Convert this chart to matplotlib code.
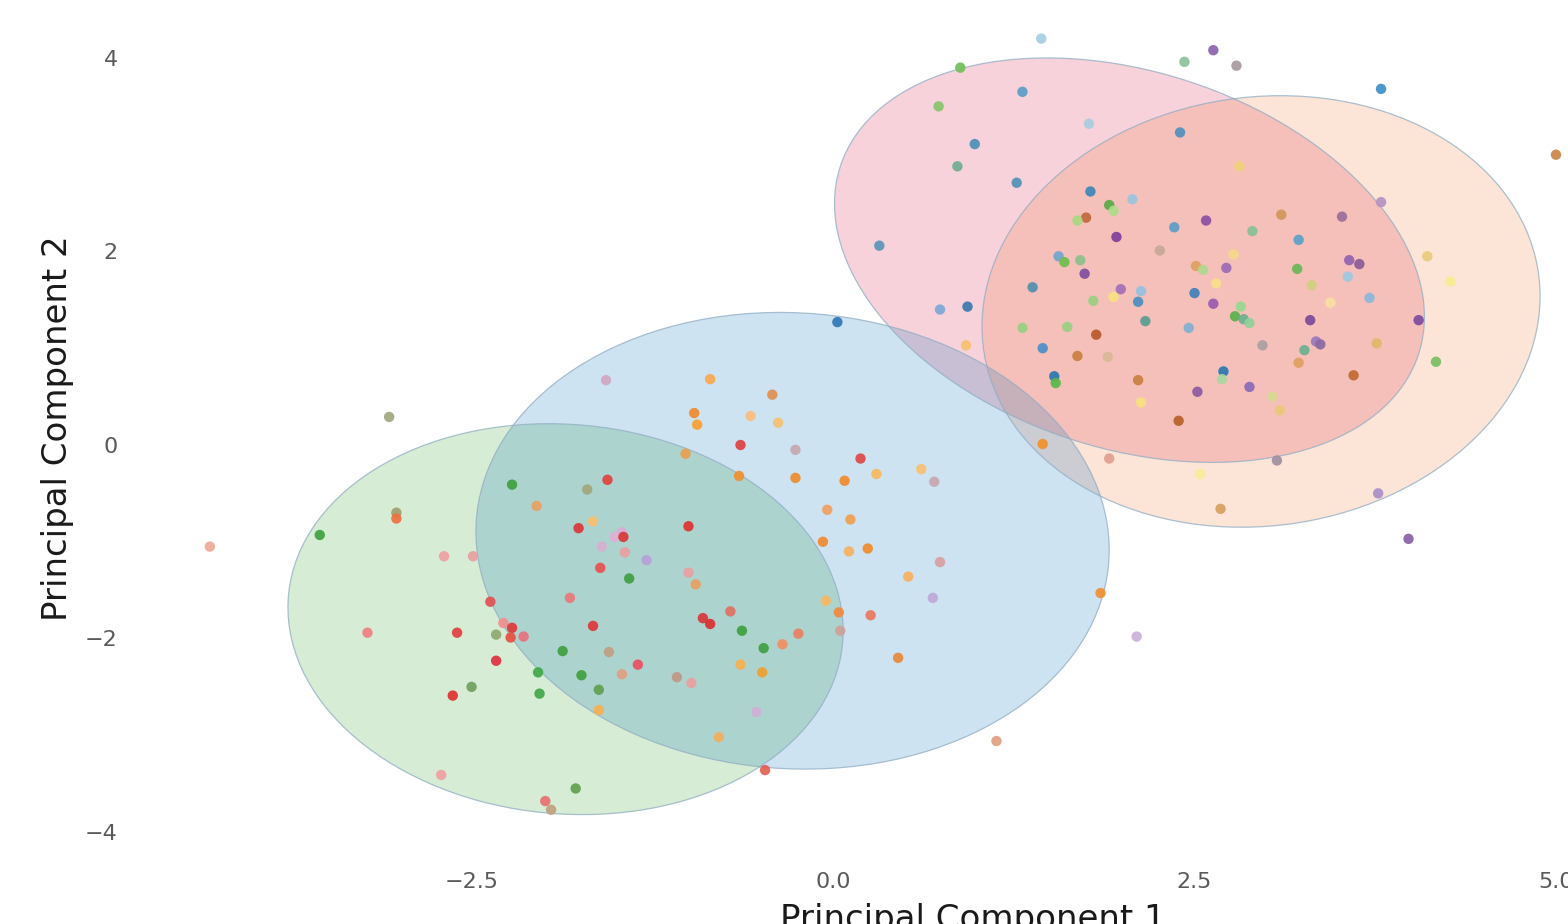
import numpy as np
import matplotlib
matplotlib.use('Agg')
import matplotlib.pyplot as plt
from matplotlib.patches import Ellipse

plt.rcParams['font.family'] = ['DejaVu Sans']

# PCA scores (PC1, PC2) and point colours
pc1 = [1.44, 2.63, 2.43, 2.79, 0.88, 0.73, 1.31, 1.77, 0.98, 0.86,
       1.27, 0.32, 3.79, 5.00, 2.40, 2.81, 1.78, 1.91, 1.75, 1.69,
       1.56, 1.60, 1.71, 1.74, 1.38, 3.79, 3.10, 3.52, 2.58, 2.07,
       1.94, 2.36, 2.90, 1.96, 3.22, 2.26, 4.11, 2.77, 3.57, 3.64,
       2.51, 2.56, 2.72, 3.21, 3.56, 4.27, 2.65, 3.31, 1.99, 2.13,
       2.50, 3.71, 1.94, 2.11, 2.63, 2.82, 2.78, 2.84, 2.88, 3.44,
       2.16, 2.46, 3.30, 4.05, 2.97, 3.34, 3.37, 3.26, 3.76, 4.17,
       3.22, 2.70, 2.69, 2.11, 2.52, 2.88, 3.04, 2.13, 3.09, 3.60,
       2.39, 1.91, 3.07, 2.54, 3.77, 2.68, 3.98, 1.80, 1.31, 1.62,
       1.82, 1.45, 1.69, 1.90, 1.53, 1.54, 0.03, 0.74, 0.93, 0.92,
       1.45, 2.10,
       -0.85, -0.42, -0.96, -0.94, -0.57, -0.38, -0.64, -0.26, -1.02, 0.19,
       0.30, 0.61, 0.70, -0.65, -0.26, 0.08, -1.00, -0.04, 0.12, -0.07,
       0.11, 0.24, 0.74, 0.52, 0.69, 1.85, -1.00, -0.95, -0.05, 0.04,
       0.26, -0.71, -0.90, -0.85, 0.05, -0.63, -0.24, -0.35, -0.48, -0.64,
       -0.49, 0.45, -1.08, -0.98, -0.53, -0.79, -0.47, 1.13,
       -1.57, -3.07, -2.22, -1.56, -1.70, -2.05, -1.66, -1.76, -1.46, -1.51,
       -1.45, -1.60, -1.44, -3.02, -3.02, -3.55, -4.31, -2.69, -2.49, -1.29,
       -1.61, -1.41, -1.82, -2.37, -2.28, -2.22, -2.14, -2.23, -2.33, -1.66,
       -3.22, -2.60, -1.87, -1.55, -1.35, -1.46, -2.04, -1.74, -2.33, -1.62,
       -2.50, -2.63, -2.03, -1.62, -2.71, -1.78, -1.99, -1.95]

pc2 = [4.20, 4.08, 3.96, 3.92, 3.90, 3.50, 3.65, 3.32, 3.11, 2.88,
       2.71, 2.06, 3.68, 3.00, 3.23, 2.88, 2.62, 2.48, 2.35, 2.32,
       1.95, 1.89, 1.91, 1.77, 1.63, 2.51, 2.38, 2.36, 2.32, 2.54,
       2.42, 2.25, 2.21, 2.15, 2.12, 2.01, 1.95, 1.97, 1.91, 1.87,
       1.85, 1.81, 1.83, 1.82, 1.74, 1.69, 1.67, 1.65, 1.61, 1.59,
       1.57, 1.52, 1.53, 1.48, 1.46, 1.43, 1.33, 1.30, 1.26, 1.47,
       1.28, 1.21, 1.29, 1.29, 1.03, 1.07, 1.04, 0.98, 1.05, 0.86,
       0.85, 0.76, 0.68, 0.67, 0.55, 0.60, 0.50, 0.44, 0.36, 0.72,
       0.25, -0.14, -0.16, -0.30, -0.50, -0.66, -0.97, 1.49, 1.21, 1.22,
       1.14, 1.00, 0.92, 0.91, 0.71, 0.64, 1.27, 1.40, 1.43, 1.03,
       0.01, -1.98,
       0.68, 0.52, 0.33, 0.21, 0.30, 0.23, 0.00, -0.05, -0.09, -0.14,
       -0.30, -0.25, -0.38, -0.32, -0.34, -0.37, -0.84, -0.67, -0.77, -1.00,
       -1.10, -1.07, -1.21, -1.36, -1.58, -1.53, -1.32, -1.44, -1.61, -1.73,
       -1.76, -1.72, -1.79, -1.85, -1.92, -1.92, -1.95, -2.06, -2.10, -2.27,
       -2.35, -2.20, -2.40, -2.46, -2.76, -3.02, -3.36, -3.06,
       0.67, 0.29, -0.41, -0.36, -0.46, -0.63, -0.79, -0.86, -0.90, -0.95,
       -0.95, -1.05, -1.11, -0.70, -0.76, -0.93, -1.05, -1.15, -1.15, -1.19,
       -1.27, -1.38, -1.58, -1.62, -1.84, -1.89, -1.98, -1.99, -1.96, -1.87,
       -1.94, -1.94, -2.13, -2.14, -2.27, -2.37, -2.35, -2.38, -2.23, -2.53,
       -2.50, -2.59, -2.57, -2.74, -3.41, -3.55, -3.68, -3.77]

point_colors = [
    '#a6cee3', '#8a64ad', '#8cc49a', '#a89aa0', '#6fbf5a', '#86c46a', '#5a9ec6', '#a8cde0', '#4d8fb5', '#6fae8e',
    '#4f92b8', '#5b95b8', '#3d8ec8', '#c98548', '#4f90c0', '#f0d27a', '#3f86b8', '#5aaa48', '#c0683a', '#a8d880',
    '#6ea5cf', '#6cbf4a', '#8cc08a', '#7f4f9f', '#5090b0', '#b592c0', '#d2965a', '#9a6e9c', '#8a4fa3', '#9cc4df',
    '#b0dc88', '#5d9cc8', '#88c092', '#7e3f9a', '#5aa1c6', '#c4a898', '#e8cc7a', '#f5d88a', '#9263b0', '#8a5a9a',
    '#e0a060', '#b0d890', '#9a6ab5', '#6ab85a', '#9cc8e0', '#f8ec90', '#f8e08a', '#d0d080', '#a070b8', '#98c0e0',
    '#3f7fba', '#8ab8d8', '#f8e080', '#4a8fc0', '#9a5ab0', '#98d890', '#5ab04a', '#6ab090', '#90d098', '#f8e0a0',
    '#5a9e90', '#80b0d0', '#7a4a9a', '#7a4aa0', '#a8a0a0', '#9a7ac0', '#8a6aa0', '#6ab090', '#e0b868', '#7ac060',
    '#e0a060', '#2a78b0', '#a8d8a0', '#c88040', '#8a5aa0', '#8a6ab8', '#d8d890', '#f8e080', '#e8c878', '#c06a30',
    '#b8602a', '#e0a090', '#a090a0', '#f8ec98', '#a890c8', '#d8a060', '#8a60a8', '#98d080', '#98d080', '#98d080',
    '#b8582a', '#4a8ec8', '#c88040', '#d8b898', '#2a78b0', '#5ab848', '#2e78b8', '#7ca8d8', '#3a78b0', '#f8c070',
    '#f0922a', '#c8b0d8',
    '#f8a850', '#e09050', '#f08a30', '#f8a030', '#f8c080', '#f8c070', '#e04040', '#c8a8b0', '#e8a050', '#e04848',
    '#f8b860', '#f8c070', '#c8a8b0', '#f09030', '#f08a2a', '#f08a2a', '#e03030', '#f0a060', '#f0a050', '#f08a30',
    '#f8b060', '#f08a2a', '#d8a0a0', '#f8b060', '#c0a8d8', '#f09030', '#e8a0a0', '#e8a060', '#f8b860', '#f08a40',
    '#e87860', '#e07060', '#d83838', '#d83030', '#d0a098', '#40a040', '#e88060', '#f09060', '#40a040', '#f8b050',
    '#f0a030', '#e8883a', '#c09888', '#e8a0a0', '#d0b0d8', '#f0b060', '#e06050', '#e0a080',
    '#d0a8c0', '#a0a880', '#40a040', '#e04040', '#a0a878', '#e8a060', '#f8c070', '#d83838', '#d8b0d8', '#e0b0d0',
    '#d83838', '#d8b0d0', '#e8a0a0', '#a0a070', '#f07040', '#40a040', '#f0a898', '#f0a0a0', '#e8a0a0', '#b8a0d8',
    '#e85050', '#40a040', '#e87878', '#e05050', '#f09090', '#e03838', '#e87080', '#e85040', '#90a870', '#e03838',
    '#f08080', '#e04040', '#40a040', '#c0a080', '#e85060', '#e0a080', '#40a848', '#40a040', '#e03040', '#60a050',
    '#70a060', '#e03030', '#40a848', '#f8b050', '#f0a0a0', '#60a050', '#e87070', '#c0a080']

# cluster ellipses: centre, spread along each PC, correlation
ell_cx = [-1.85, 2.05, 2.96, -0.28]
ell_cy = [-1.80, 1.91, 1.38, -0.99]
ell_sx = [1.92, 2.04, 1.93, 2.19]
ell_sy = [2.02, 2.09, 2.23, 2.36]
ell_rho = [-0.06, -0.28, 0.07, -0.04]
ell_colors = ['#33a02c', '#e0204a', '#f2783a', '#0a73be']

fig = plt.figure(figsize=(15.68, 9.24), dpi=100)
ax = fig.add_axes([0.0893, 0.0693, 0.9107, 0.9307])

for cx, cy, sx, sy, r, c in zip(ell_cx, ell_cy, ell_sx, ell_sy, ell_rho, ell_colors):
    cov = np.array([[sx**2, r*sx*sy], [r*sx*sy, sy**2]])
    vals, vecs = np.linalg.eigh(cov)
    angle = np.degrees(np.arctan2(vecs[1, 1], vecs[0, 1]))
    w, h = 2*np.sqrt(vals[1]), 2*np.sqrt(vals[0])
    ax.add_patch(Ellipse((cx, cy), w, h, angle=angle,
                         facecolor=c, alpha=0.2, edgecolor='none', zorder=1))
    ax.add_patch(Ellipse((cx, cy), w, h, angle=angle, facecolor='none',
                         edgecolor='#8fadc4', alpha=0.75, lw=0.9, zorder=2))

ax.scatter(pc1, pc2, c=point_colors, s=56, linewidths=0, alpha=0.92, zorder=3)

ax.set_xlim(-4.793, 5.083)
ax.set_ylim(-4.289, 4.599)
ax.set_xticks([-2.5, 0.0, 2.5, 5.0])
ax.set_xticklabels(['\u22122.5', '0.0', '2.5', '5.0'])
ax.set_yticks([-4, -2, 0, 2, 4])
for s in ax.spines.values():
    s.set_visible(False)
ax.tick_params(length=0, labelsize=16, labelcolor='#5a5a5a')
ax.tick_params(axis='y', pad=16)
ax.tick_params(axis='x', pad=9)

ax.set_xlabel('Principal Component 1', fontsize=24.5, color='#1a1a1a')
ax.set_ylabel('Principal Component 2', fontsize=24.5, color='#1a1a1a')
ax.xaxis.set_label_coords(0.5833, -0.05)
ax.yaxis.set_label_coords(-0.046, 0.502)

fig.savefig('out.png', dpi=100, facecolor='white')
